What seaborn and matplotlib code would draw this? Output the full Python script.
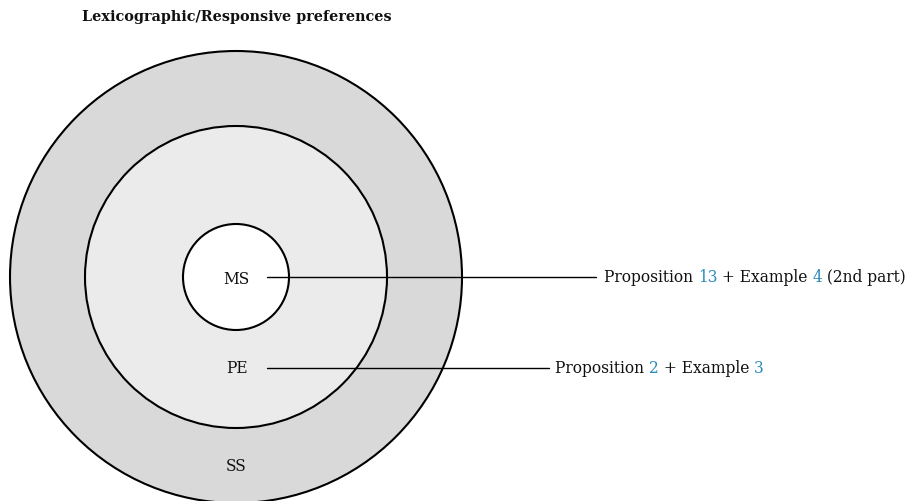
import matplotlib.pyplot as plt
import seaborn as sb
from matplotlib.patches import Circle

sb.set_theme(style='white')
plt.rcParams['font.family'] = ['DejaVu Serif']

# chart content
title = 'Lexicographic/Responsive preferences'
sets = ['SS', 'PE', 'MS']          # outer -> inner
radii = [226, 151, 53]             # pixels
fills = ['#d9d9d9', '#ebebeb', '#ffffff']
notes = {
    'MS': ['Proposition ', '13', ' + Example ', '4', ' (2nd part)'],
    'PE': ['Proposition ', '2', ' + Example ', '3'],
}
link_blue = '#2a8bbd'

fig = plt.figure(figsize=(9.15, 5.02), dpi=100)
ax = fig.add_axes([0, 0, 1, 1])
ax.set_xlim(0, 915)
ax.set_ylim(502, 0)
ax.axis('off')

cx, cy = 236, 278
fs = 11.2

# nested circles
for r, fc in zip(radii, fills):
    ax.add_patch(Circle((cx, cy), r, facecolor=fc, edgecolor='black', lw=1.5, zorder=1))

# set labels
label_pos = {'MS': (cx, cy + 2), 'PE': (cx + 1, 369), 'SS': (cx, 467)}
for s in sets:
    x, y = label_pos[s]
    ax.text(x, y, s, ha='center', va='center', fontsize=fs, color='#111111', zorder=3)


def rich_text(x, y, parts):
    t = ax.text(x, y, parts[0], ha='left', va='center', fontsize=fs, color='#111111', zorder=3)
    for i, p in enumerate(parts[1:], start=1):
        col = link_blue if i % 2 == 1 else '#111111'
        t = ax.annotate(p, xy=(1, 0), xycoords=t, ha='left', va='bottom',
                        fontsize=fs, color=col, zorder=3)


# leader lines + notes
leaders = {'MS': (267, 596, cy, 604), 'PE': (267, 549, 369, 555)}
for s, (x0, x1, y, tx) in leaders.items():
    sb.lineplot(x=[x0, x1], y=[y, y], ax=ax, color='black', lw=1.0, zorder=2)
    rich_text(tx, y, notes[s])

ax.text(82, 17, title, ha='left', va='center', fontsize=10.35, fontweight='bold', color='#111111')

fig.savefig('out.png', dpi=100)
